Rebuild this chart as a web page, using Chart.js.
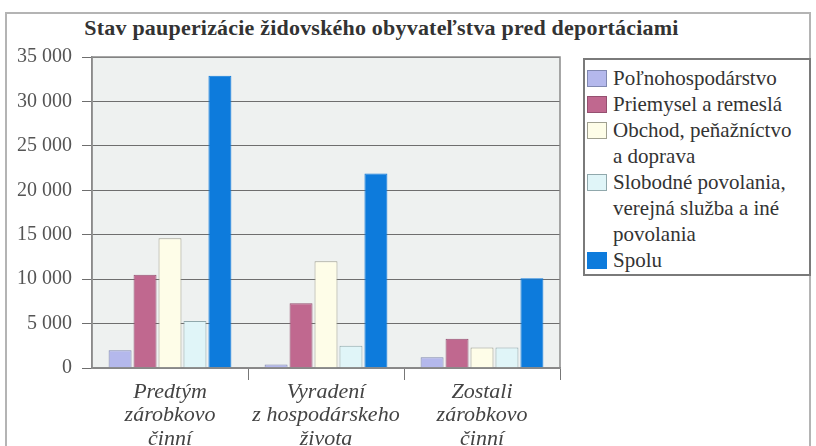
<!DOCTYPE html>
<html>
<head>
<meta charset="utf-8">
<script src="https://cdn.jsdelivr.net/npm/chart.js@4.4.1/dist/chart.umd.min.js"></script>
<style>
  html, body { margin: 0; padding: 0; background: #fff; }
  #wrap { position: relative; width: 816px; height: 446px; overflow: hidden; font-family: 'Liberation Serif', 'Times New Roman', serif; }
  #frame { position: absolute; left: 5px; top: 12px; width: 806px; height: 450px; border: 2px solid #b4b4b4; box-sizing: border-box; }
  #title { position: absolute; left: 0; width: 763px; top: 15px; text-align: center; font-weight: bold; font-size: 22px; letter-spacing: 0.2px; color: #333; }
  #legend { position: absolute; left: 583px; top: 58px; width: 228px; height: 218px; border: 2px solid #7a7a7a; box-sizing: border-box; padding: 5px 0 0 2px; background: #fff; }
  .item { display: flex; align-items: flex-start; font-size: 21px; line-height: 26px; color: #333; white-space: nowrap; }
  .sw { flex: none; width: 20px; height: 17px; margin: 5px 6px 0 0; border: 1px solid #777; box-sizing: border-box; }
  canvas { position: absolute; left: 0; top: 0; }
</style>
</head>
<body>
<div id="wrap">
  <div id="frame"></div>
  <div id="title">Stav pauperizácie židovského obyvateľstva pred deportáciami</div>
  <canvas id="chart" width="816" height="446"></canvas>
  <div id="legend"></div>
</div>
<script>
// ========== DATA ==========
const categories = [
  ["Predtým", "zárobkovo", "činní"],
  ["Vyradení", "z hospodárskeho", "života"],
  ["Zostali", "zárobkovo", "činní"],
];
const seriesNames = [
  ["Poľnohospodárstvo"],
  ["Priemysel a remeslá"],
  ["Obchod, peňažníctvo", "a doprava"],
  ["Slobodné povolania,", "verejná služba a iné", "povolania"],
  ["Spolu"],
];
const polnohospodarstvo = [2000, 400, 1200];
const priemysel = [10500, 7300, 3300];
const obchod = [14600, 12000, 2300];
const slobodne = [5300, 2500, 2300];
const spolu = [32900, 21900, 10100];
const yTicks = [0, 5000, 10000, 15000, 20000, 25000, 30000, 35000];

const seriesValues = [polnohospodarstvo, priemysel, obchod, slobodne, spolu];
const fills = ["#b4b8ec", "#c0688f", "#fefde8", "#e0f5f8", "#0d7bdc"];
const borders = ["#8088b0", "#955070", "#a0a090", "#90a8ac", "#0d7bdc"];
const serif = "'Liberation Serif', 'Times New Roman', serif";

Chart.defaults.font.family = serif;

// ========== PLOT AREA BACKGROUND + BORDER ==========
const plotBox = {
  id: "plotBox",
  beforeDraw(chart) {
    const { ctx, chartArea: a } = chart;
    ctx.save();
    ctx.fillStyle = "#eef1f0";
    ctx.fillRect(a.left, a.top, a.right - a.left, a.bottom - a.top);
    ctx.restore();
  },
  afterDraw(chart) {
    const { ctx, chartArea: a } = chart;
    ctx.save();
    ctx.strokeStyle = "#8a8a8a";
    ctx.lineWidth = 1.5;
    ctx.strokeRect(a.left, a.top, a.right - a.left, a.bottom - a.top);
    ctx.restore();
  },
};

// ========== CHART ==========
new Chart(document.getElementById("chart"), {
  type: "bar",
  data: {
    labels: categories,
    datasets: seriesValues.map((vals, i) => ({
      label: seriesNames[i].join(" "),
      data: vals,
      backgroundColor: fills[i],
      borderColor: borders[i],
      borderWidth: 1,
      categoryPercentage: 0.8,
      barPercentage: 0.92,
    })),
  },
  options: {
    responsive: false,
    animation: false,
    layout: { padding: { left: 0, top: 57, right: 256, bottom: 0 } },
    plugins: { legend: { display: false }, title: { display: false }, tooltip: { enabled: false } },
    scales: {
      x: {
        border: { color: "#8a8a8a", width: 1.5 },
        grid: {
          drawOnChartArea: false,
          tickLength: 12,
          color: (c) => (c.index === 0 || c.index === categories.length ? "rgba(0,0,0,0)" : "#777"),
        },
        ticks: {
          color: "#444",
          padding: 1,
          font: { family: serif, size: 22, style: "italic", lineHeight: 1.05 },
        },
        afterFit: (s) => { s.height = 446 - 368; },
      },
      y: {
        min: 0,
        max: 35000,
        afterBuildTicks: (s) => { s.ticks = yTicks.map((v) => ({ value: v })); },
        border: { color: "#8a8a8a", width: 1.5 },
        grid: { color: "#6e6e6e", lineWidth: 1, tickLength: 10 },
        ticks: {
          color: "#555",
          padding: 10,
          font: { family: serif, size: 20 },
          callback: (v) => String(v).replace(/\B(?=(\d{3})+(?!\d))/g, " "),
        },
        afterFit: (s) => { s.width = 92; },
      },
    },
  },
  plugins: [plotBox],
});

// ========== LEGEND ==========
const legend = document.getElementById("legend");
seriesNames.forEach((lines, i) => {
  const row = document.createElement("div");
  row.className = "item";
  const sw = document.createElement("span");
  sw.className = "sw";
  sw.style.background = fills[i];
  sw.style.borderColor = borders[i];
  const txt = document.createElement("span");
  txt.innerHTML = lines.join("<br>");
  row.appendChild(sw);
  row.appendChild(txt);
  legend.appendChild(row);
});
</script>
</body>
</html>
